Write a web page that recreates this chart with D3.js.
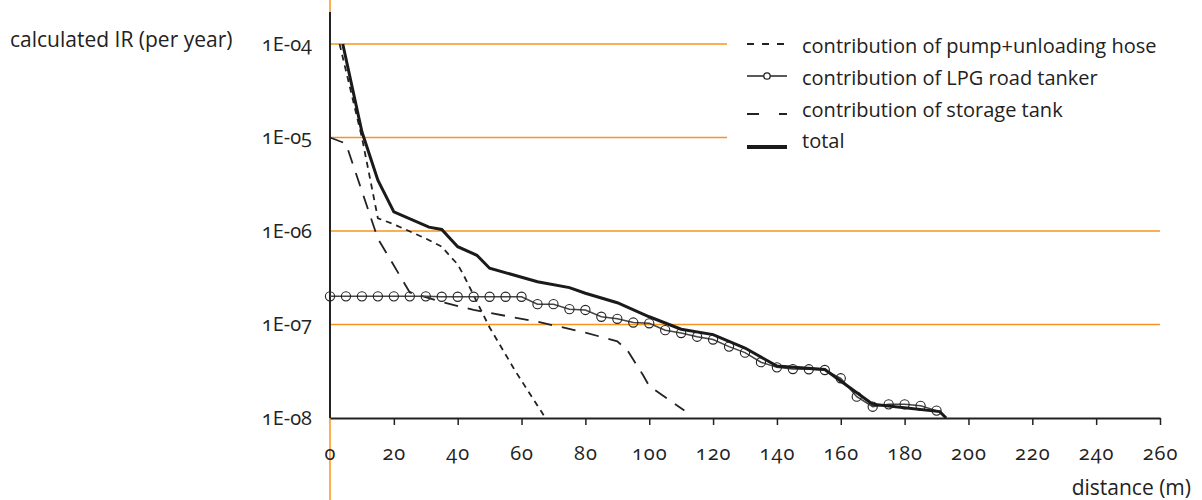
<!DOCTYPE html>
<html>
<head>
<meta charset="utf-8">
<script src="https://cdn.jsdelivr.net/npm/d3@7"></script>
<style>
  body { margin: 0; background: #fff; }
  svg text { font-family: "Open Sans", "Noto Sans", sans-serif; fill: #222; font-variant-numeric: oldstyle-nums; }
</style>
</head>
<body>
<div id="chart"></div>
<script>
// distances (m) and calculated IR (per year)
var totalDist = [4, 10, 15, 20, 31, 35, 40, 46, 50, 65, 75, 80, 90, 100, 110, 120, 130, 140, 155, 170, 191, 193];
var totalIR = [1e-4, 1.15e-5, 3.5e-6, 1.6e-6, 1.1e-6, 1.04e-6, 6.8e-7, 5.5e-7, 4.0e-7, 2.87e-7, 2.48e-7, 2.16e-7,
  1.71e-7, 1.21e-7, 8.9e-8, 7.8e-8, 5.6e-8, 3.6e-8, 3.3e-8, 1.4e-8, 1.17e-8, 1e-8];

var pumpDist = [3, 10, 15, 20, 30, 35, 38, 40, 42, 50, 58, 66, 67.5];
var pumpIR = [1e-4, 1e-5, 1.37e-6, 1.18e-6, 8.3e-7, 6.8e-7, 5.2e-7, 4.4e-7, 3.3e-7, 9.3e-8, 3.2e-8, 1.2e-8, 1e-8];

var tankDist = [0, 5, 15, 25, 35, 45, 65, 80, 90, 93, 98, 100, 111];
var tankIR = [1e-5, 8.6e-6, 8.3e-7, 2.2e-7, 1.74e-7, 1.43e-7, 1.07e-7, 8.2e-8, 6.6e-8, 5.4e-8, 2.9e-8, 2.2e-8, 1.2e-8];

var lpgDist = [0, 5, 10, 15, 20, 25, 30, 35, 40, 45, 50, 55, 60, 65, 70, 75, 80, 85, 90, 95,
  100, 105, 110, 115, 120, 125, 130, 135, 140, 145, 150, 155, 160, 165, 170, 175, 180, 185, 190];
var lpgIR = [2e-7, 2e-7, 2e-7, 2e-7, 2e-7, 2e-7, 2e-7, 1.98e-7, 1.98e-7, 1.98e-7, 1.98e-7, 1.98e-7, 1.98e-7,
  1.65e-7, 1.65e-7, 1.46e-7, 1.43e-7, 1.21e-7, 1.15e-7, 1.05e-7, 1.03e-7, 8.7e-8, 8.1e-8, 7.4e-8, 6.9e-8,
  5.8e-8, 5.0e-8, 3.95e-8, 3.48e-8, 3.34e-8, 3.32e-8, 3.26e-8, 2.66e-8, 1.69e-8, 1.32e-8, 1.4e-8, 1.4e-8,
  1.35e-8, 1.2e-8];

var xTicks = [0, 20, 40, 60, 80, 100, 120, 140, 160, 180, 200, 220, 240, 260];
var yTicks = [1e-4, 1e-5, 1e-6, 1e-7, 1e-8];
var yTickLabels = ['1E-04', '1E-05', '1E-06', '1E-07', '1E-08'];
var legendLabels = ['contribution of pump+unloading hose', 'contribution of LPG road tanker',
  'contribution of storage tank', 'total'];

var width = 1202, height = 500;
var margin = { top: 44, right: 42, bottom: 82, left: 330 };
var orange = '#f7941d';

var svg = d3.select('#chart').append('svg')
  .attr('width', width)
  .attr('height', height);

var x = d3.scaleLinear().domain([0, 260]).range([margin.left, width - margin.right]);
var y = d3.scaleLog().domain([1e-8, 1e-4]).range([height - margin.bottom, margin.top]);

// orange reference line along the y axis, full height
svg.append('line')
  .attr('x1', x(0)).attr('x2', x(0))
  .attr('y1', 0).attr('y2', height)
  .attr('stroke', orange).attr('stroke-width', 1.5);

// orange decade lines
svg.append('g')
  .selectAll('line')
  .data(yTicks.slice(0, 4))
  .enter()
  .append('line')
  .attr('x1', x(0)).attr('x2', x(260))
  .attr('y1', function (d) { return y(d); })
  .attr('y2', function (d) { return y(d); })
  .attr('stroke', orange).attr('stroke-width', 1.3);

// legend box hides the upper grid lines
var legend = svg.append('g').attr('transform', 'translate(727, 28)');
legend.append('rect')
  .attr('width', 450).attr('height', 128)
  .attr('fill', '#fff');

// y axis
var yAxis = svg.append('g')
  .attr('transform', 'translate(' + x(0) + ',0)')
  .call(d3.axisLeft(y).tickValues(yTicks).tickSize(0).tickPadding(18)
    .tickFormat(function (d, i) { return yTickLabels[i]; }));
yAxis.select('.domain').remove();
yAxis.selectAll('text')
  .style('font-size', '20px').attr('fill', '#222')
  .attr('dy', null).attr('y', 6);
svg.append('line')
  .attr('x1', x(0)).attr('x2', x(0))
  .attr('y1', 12).attr('y2', y(1e-8))
  .attr('stroke', '#222').attr('stroke-width', 2);

// x axis
var xAxis = svg.append('g')
  .attr('transform', 'translate(0,' + y(1e-8) + ')')
  .call(d3.axisBottom(x).tickValues(xTicks).tickSizeOuter(0).tickSizeInner(7));
xAxis.select('.domain').attr('stroke', '#222').attr('stroke-width', 2);
xAxis.selectAll('.tick line').attr('stroke', '#222').attr('stroke-width', 1.5)
  .filter(function (d) { return d === 0; }).remove();
xAxis.selectAll('text')
  .style('font-size', '20px').style('letter-spacing', '1px')
  .attr('fill', '#222')
  .attr('dy', null).attr('y', 42);

// axis titles
svg.append('text')
  .attr('x', 10).attr('y', 47)
  .style('font-size', '21px')
  .text('calculated IR (per year)');
svg.append('text')
  .attr('x', 1191).attr('y', 495)
  .attr('text-anchor', 'end')
  .style('font-size', '21px')
  .text('distance (m)');

function series(xs, ys) {
  return xs.map(function (d, i) { return [d, ys[i]]; });
}
var line = d3.line()
  .x(function (d) { return x(d[0]); })
  .y(function (d) { return y(d[1]); });

var plot = svg.append('g');

plot.append('path')
  .datum(series(tankDist, tankIR))
  .attr('d', line)
  .attr('fill', 'none').attr('stroke', '#222').attr('stroke-width', 1.8)
  .attr('stroke-dasharray', '14,10');

plot.append('path')
  .datum(series(pumpDist, pumpIR))
  .attr('d', line)
  .attr('fill', 'none').attr('stroke', '#222').attr('stroke-width', 1.8)
  .attr('stroke-dasharray', '6,5');

plot.append('path')
  .datum(series(lpgDist, lpgIR))
  .attr('d', line)
  .attr('fill', 'none').attr('stroke', '#444').attr('stroke-width', 1.5);

plot.selectAll('.dot')
  .data(series(lpgDist, lpgIR))
  .enter()
  .append('circle')
  .attr('class', 'dot')
  .attr('cx', function (d) { return x(d[0]); })
  .attr('cy', function (d) { return y(d[1]); })
  .attr('r', 4.6)
  .attr('fill', 'none').attr('stroke', '#222').attr('stroke-width', 1.1);

plot.append('path')
  .datum(series(totalDist, totalIR))
  .attr('d', line)
  .attr('fill', 'none').attr('stroke', '#1a1a1a').attr('stroke-width', 3);

// legend entries (text baselines and symbol offsets as in the original)
var rows = [25, 57, 89, 120];
var symbolRows = [16, 48, 86, 119];
legend.selectAll('.label')
  .data(legendLabels)
  .enter()
  .append('text')
  .attr('class', 'label')
  .attr('x', 75)
  .attr('y', function (d, i) { return rows[i]; })
  .style('font-size', '20px')
  .text(function (d) { return d; });

legend.append('line')
  .attr('x1', 20).attr('x2', 60).attr('y1', symbolRows[0]).attr('y2', symbolRows[0])
  .attr('stroke', '#222').attr('stroke-width', 1.8).attr('stroke-dasharray', '7,8');
legend.append('line')
  .attr('x1', 20).attr('x2', 60).attr('y1', symbolRows[1]).attr('y2', symbolRows[1])
  .attr('stroke', '#222').attr('stroke-width', 1.5);
legend.append('circle')
  .attr('cx', 40).attr('cy', symbolRows[1]).attr('r', 3.2)
  .attr('fill', '#fff').attr('stroke', '#222').attr('stroke-width', 1.3);
legend.append('line')
  .attr('x1', 20).attr('x2', 60).attr('y1', symbolRows[2]).attr('y2', symbolRows[2])
  .attr('stroke', '#222').attr('stroke-width', 1.8).attr('stroke-dasharray', '12,20');
legend.append('line')
  .attr('x1', 20).attr('x2', 60).attr('y1', symbolRows[3]).attr('y2', symbolRows[3])
  .attr('stroke', '#1a1a1a').attr('stroke-width', 4);
</script>
</body>
</html>
